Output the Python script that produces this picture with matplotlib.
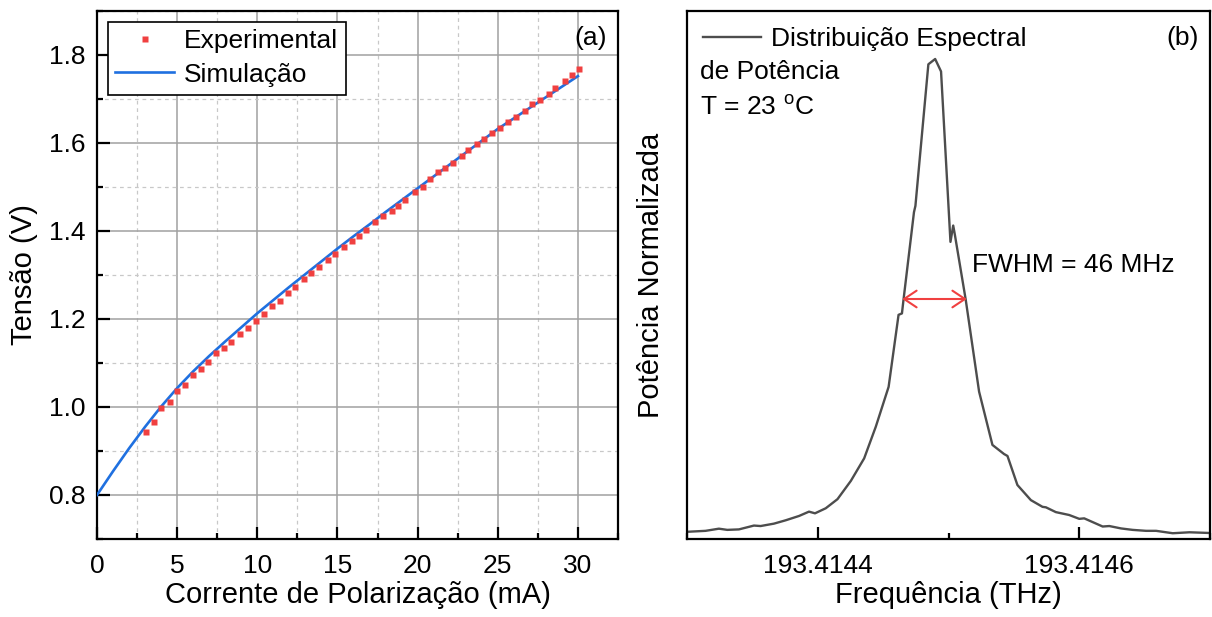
import matplotlib
matplotlib.use('Agg')
import matplotlib.pyplot as plt
from matplotlib.ticker import MultipleLocator, FixedLocator, FormatStrFormatter
import numpy as np

plt.rcParams['font.family'] = ['Liberation Sans', 'DejaVu Sans']
plt.rcParams['mathtext.fontset'] = 'custom'
plt.rcParams['mathtext.rm'] = 'Liberation Sans'

# (a) experimental I-V points (mA, V)
exp_current = [3.05, 3.53, 4.00, 4.53, 4.96, 5.46, 5.96, 6.47, 6.95, 7.45,
               7.90, 8.38, 8.90, 9.40, 9.90, 10.42, 10.94, 11.40, 11.92, 12.36,
               12.92, 13.38, 13.86, 14.42, 14.86, 15.42, 15.88, 16.36, 16.81, 17.36,
               17.86, 18.38, 18.79, 19.21, 19.84, 20.31, 20.78, 21.25, 21.71, 22.23,
               22.75, 23.17, 23.69, 24.17, 24.67, 25.15, 25.63, 26.15, 26.67, 27.13,
               27.65, 28.17, 28.59, 29.17, 29.63, 30.04]
exp_voltage = [0.944, 0.966, 0.997, 1.011, 1.036, 1.051, 1.073, 1.087, 1.102, 1.122,
               1.133, 1.148, 1.165, 1.180, 1.196, 1.212, 1.230, 1.241, 1.260, 1.273,
               1.291, 1.305, 1.319, 1.335, 1.348, 1.364, 1.378, 1.389, 1.402, 1.420,
               1.434, 1.446, 1.457, 1.471, 1.488, 1.501, 1.519, 1.533, 1.543, 1.555,
               1.571, 1.584, 1.598, 1.609, 1.622, 1.633, 1.648, 1.658, 1.672, 1.688,
               1.697, 1.712, 1.725, 1.741, 1.754, 1.769]

# (a) simulated curve
sim_current = list(range(0, 31))
sim_voltage = [0.800, 0.854, 0.906, 0.955, 1.001, 1.043, 1.081, 1.116, 1.149, 1.181,
               1.213, 1.243, 1.273, 1.302, 1.331, 1.360, 1.388, 1.415, 1.443, 1.470,
               1.497, 1.524, 1.551, 1.578, 1.605, 1.632, 1.656, 1.680, 1.704, 1.728,
               1.752]

# (b) spectrum, frequency as offset (MHz) from 193.4144 THz
f0_thz = 193.4144
freq_off_mhz = [-100.0, -85.8, -75.6, -69.2, -60.3, -48.8, -43.7, -33.5, -24.5, -14.3,
                -6.7, -2.1, 6.1, 15.1, 25.3, 35.5, 44.4, 54.2, 61.8, 64.4,
                65.4, 73.6, 74.7, 84.6, 89.8, 94.3, 101.5, 103.6, 104.8, 113.2,
                123.4, 133.6, 142.5, 145.1, 152.7, 163.0, 171.9, 174.5, 182.1, 192.3,
                200.0, 203.8, 217.9, 223.0, 232.0, 240.8, 251.1, 258.8, 271.5, 284.3,
                300.0]
power_norm = [0.015, 0.017, 0.0215, 0.019, 0.020, 0.028, 0.027, 0.032, 0.039, 0.048,
              0.057, 0.0535, 0.064, 0.083, 0.121, 0.168, 0.234, 0.317, 0.467, 0.470,
              0.494, 0.681, 0.694, 0.989, 1.000, 0.974, 0.619, 0.653, 0.635, 0.498,
              0.307, 0.196, 0.177, 0.173, 0.1125, 0.081, 0.067, 0.066, 0.056, 0.050,
              0.042, 0.043, 0.026, 0.027, 0.022, 0.019, 0.017, 0.017, 0.012, 0.014,
              0.0125]
fwhm_off_mhz = [64.6, 114.0]
fwhm_level = 0.5

freq_thz = f0_thz + np.array(freq_off_mhz) * 1e-6
fwhm_thz = f0_thz + np.array(fwhm_off_mhz) * 1e-6

fs = 19
red = '#f04040'
blue = '#1f70e0'

fig = plt.figure(figsize=(12.12, 6.17), dpi=100)
ax1 = fig.add_axes([97/1212, 1-539/617, 521/1212, 528/617])
ax2 = fig.add_axes([687/1212, 1-539/617, 523/1212, 528/617])

# ---- panel (a)
ax1.plot(sim_current, sim_voltage, color=blue, lw=1.9, label='Simulação', zorder=3)
ax1.plot(exp_current, exp_voltage, 's', color=red, ms=5, mec='none',
         label='Experimental', zorder=4)
ax1.set_xlim(0, 32.5)
ax1.set_ylim(0.7, 1.9)
ax1.xaxis.set_major_locator(MultipleLocator(5))
ax1.xaxis.set_minor_locator(MultipleLocator(2.5))
ax1.yaxis.set_major_locator(MultipleLocator(0.2))
ax1.yaxis.set_minor_locator(MultipleLocator(0.1))
ax1.yaxis.set_major_formatter(FormatStrFormatter('%.1f'))
ax1.set_axisbelow(True)
ax1.grid(which='major', color='#a0a0a0', lw=1.1)
ax1.grid(which='minor', color='#c8c8c8', lw=0.9, ls=(0, (3, 3)))
ax1.tick_params(which='both', direction='in', width=1.6, labelsize=fs,
                top=False, right=False)
ax1.tick_params(which='major', length=9)
ax1.tick_params(which='minor', length=4.5)
ax1.tick_params(axis='x', pad=11)
ax1.tick_params(axis='y', pad=8)
for sp in ax1.spines.values():
    sp.set_linewidth(1.6)
ax1.set_xlabel('Corrente de Polarização (mA)', fontsize=21, labelpad=2)
ax1.set_ylabel('Tensão (V)', fontsize=21, labelpad=8)
h, l = ax1.get_legend_handles_labels()
leg = ax1.legend(h[::-1], l[::-1], loc='upper left', bbox_to_anchor=(0, 1),
                 fontsize=fs, fancybox=False, framealpha=1, edgecolor='black',
                 borderaxespad=0.4, borderpad=0.3, handlelength=2.2,
                 handletextpad=0.4, labelspacing=0.35, numpoints=1)
leg.get_frame().set_linewidth(1.2)
ax1.text(0.979, 0.949, '(a)', transform=ax1.transAxes, fontsize=fs,
         ha='right', va='center')

# ---- panel (b)
ax2.plot(freq_thz, power_norm, color='#4d4d4d', lw=1.7,
         label='Distribuição Espectral')
ax2.set_xlim(193.4143, 193.4147)
ax2.set_ylim(0, 1.1)
ax2.xaxis.set_major_locator(FixedLocator([193.4144, 193.4146]))
ax2.xaxis.set_minor_locator(FixedLocator([193.4143, 193.4145, 193.4147]))
ax2.xaxis.set_major_formatter(FormatStrFormatter('%.4f'))
ax2.set_yticks([])
ax2.tick_params(which='both', direction='in', width=1.6, labelsize=fs,
                top=False, right=False, left=False)
ax2.tick_params(which='major', length=9)
ax2.tick_params(which='minor', length=4.5)
ax2.tick_params(axis='x', pad=11)
for sp in ax2.spines.values():
    sp.set_linewidth(1.6)
ax2.set_xlabel('Frequência (THz)', fontsize=21, labelpad=2)
ax2.set_ylabel('Potência Normalizada', fontsize=21, labelpad=16)
ax2.legend(loc='upper left', bbox_to_anchor=(0, 1), fontsize=fs, frameon=False,
           borderaxespad=0.4, borderpad=0.2, handlelength=2.2, handletextpad=0.4)
ax2.text(0.025, 0.885, 'de Potência', transform=ax2.transAxes, fontsize=fs,
         ha='left', va='center')
ax2.text(0.025, 0.818, r'T = 23 $^{\mathrm{o}}$C', transform=ax2.transAxes,
         fontsize=fs, ha='left', va='center')
ax2.text(0.979, 0.949, '(b)', transform=ax2.transAxes, fontsize=fs,
         ha='right', va='center')
ax2.annotate('', xy=(fwhm_thz[1], fwhm_level), xytext=(fwhm_thz[0], fwhm_level),
             arrowprops=dict(arrowstyle='<->,head_length=0.45,head_width=0.3',
                             color=red, lw=1.5, shrinkA=0, shrinkB=0,
                             mutation_scale=20))
ax2.text(fwhm_thz[1] + 4e-6, 0.571, 'FWHM = 46 MHz', fontsize=fs,
         ha='left', va='center')

fig.savefig('out.png', dpi=100)
